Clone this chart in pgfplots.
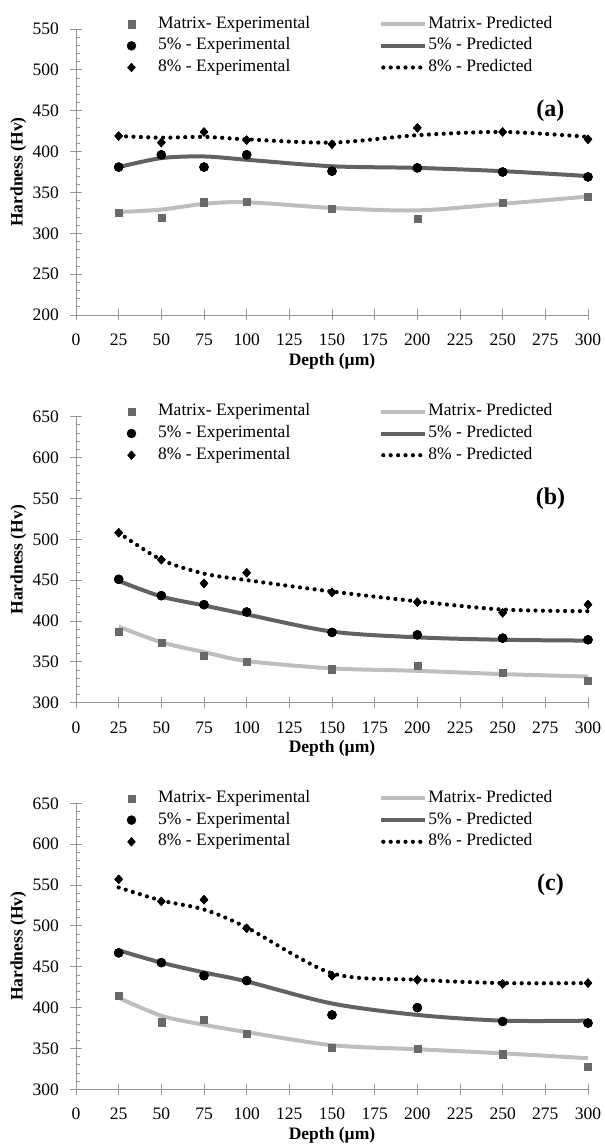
\documentclass[border=0pt]{standalone}
\usepackage{fontspec}
\setmainfont{Liberation Serif}
\usepackage{pgfplots}
\pgfplotsset{compat=1.18}
\definecolor{mexp}{RGB}{105,105,105}
\definecolor{mpred}{RGB}{190,190,190}
\definecolor{fpred}{RGB}{98,98,98}
\definecolor{axgray}{RGB}{150,150,150}
\newcommand{\fs}{\fontsize{17.5}{20}\selectfont}
\pgfplotsset{
 hard/.style={
  scale only axis, width=512pt, height=286pt,
  xmin=0, xmax=300, xtick={0,25,...,300},
  ytick distance=50, minor y tick num=4,
  axis x line*=bottom, axis y line*=left,
  axis line style={draw=axgray, line width=0.8pt},
  major tick length=11pt, minor tick length=4pt,
  tick align=center,
  tick style={draw=axgray, line width=0.8pt},
  minor y tick style={xshift=2pt},
  tick label style={font=\fs, text=black},
  /pgf/number format/assume math mode=true,
  yticklabel style={xshift=-8pt},
  xticklabel style={yshift=-10pt},
  clip=false,
  xlabel={Depth (µm)}, ylabel={Hardness (Hv)},
  ylabel style={at={(axis description cs:-0.1127,0.5)}, anchor=center, font=\bfseries\fs},
  xlabel style={at={(axis description cs:0.5,-0.161)}, anchor=center, font=\bfseries\fs},
  legend columns=3, transpose legend,
  legend style={at={(axis description cs:0.0865,1.051)}, anchor=north west,
    draw=none, fill=none, inner sep=0pt, row sep=2.7pt, column sep=0pt,
    font=\fs, nodes={inner sep=1pt, text height=12.5pt, text depth=4.5pt},
    /tikz/every even column/.append style={column sep=68pt}},
  legend cell align=left,
 },
 markleg/.style={legend image code/.code={\path[draw=none,fill=none] (0pt,-4pt) rectangle (36.7pt,4pt); \draw[##1] plot coordinates {(11pt,0pt)};}},
 mexpst/.style={only marks, mark=square*, mark size=3.6pt, mark options={fill=mexp, draw=mexp}, markleg},
 fexpst/.style={only marks, mark=*, mark size=4.5pt, mark options={fill=black, draw=black}, markleg},
 eexpst/.style={only marks, mark=diamond*, mark size=4.4pt, mark options={fill=black, draw=black, xscale=1.2}, markleg},
 mpredst/.style={no marks, smooth, draw=mpred, line width=4pt,
   legend image code/.code={\draw[##1] (0pt,0pt) -- (44pt,0pt);}},
 fpredst/.style={no marks, smooth, draw=fpred, line width=4pt,
   legend image code/.code={\draw[##1] (0pt,0pt) -- (44pt,0pt);}},
 epredst/.style={no marks, smooth, draw=black, line width=4.2pt, line cap=round, dash pattern=on 0pt off 7.4pt,
   legend image code/.code={\draw[##1] (2pt,0pt) -- (44pt,0pt);}},
}
\begin{document}
\begin{tikzpicture}
\useasboundingbox (0,0) rectangle (605pt,1144pt);
% ---------------- (a)
\begin{axis}[hard, at={(76pt,829pt)}, anchor=south west, ymin=200, ymax=550]
\addplot[mexpst] coordinates {(25,325)(50,319)(75,338)(100,339)(150,330)(200,318)(250,337)(300,345)};
\addlegendentry{Matrix- Experimental}
\addplot[fexpst] coordinates {(25,381)(50,396)(75,381)(100,396)(150,376)(200,380)(250,375)(300,369)};
\addlegendentry{5\% - Experimental}
\addplot[eexpst] coordinates {(25,419)(50,411)(75,424)(100,414)(150,409)(200,429)(250,424)(300,415)};
\addlegendentry{8\% - Experimental}
\addplot[mpredst] coordinates {(25,326)(50,329)(75,336)(100,338)(150,331)(200,328)(250,336)(300,345)};
\addlegendentry{Matrix- Predicted}
\addplot[fpredst] coordinates {(25,381)(50,392)(75,394)(100,390)(150,382)(200,380)(250,376)(300,370)};
\addlegendentry{5\% - Predicted}
\addplot[epredst] coordinates {(25,419)(50,417)(75,418)(100,415)(150,411)(200,420)(250,424)(300,418)};
\addlegendentry{8\% - Predicted}
\addplot[mexpst, forget plot] coordinates {(25,325)(50,319)(75,338)(100,339)(150,330)(200,318)(250,337)(300,345)};
\addplot[fexpst, forget plot] coordinates {(25,381)(50,396)(75,381)(100,396)(150,376)(200,380)(250,375)(300,369)};
\addplot[eexpst, forget plot] coordinates {(25,419)(50,411)(75,424)(100,414)(150,409)(200,429)(250,424)(300,415)};
\node[font=\bfseries\fontsize{24}{28}\selectfont] at (axis cs:278,450) {(a)};
\end{axis}
% ---------------- (b)
\begin{axis}[hard, at={(76pt,441.3pt)}, anchor=south west, ymin=300, ymax=650]
\addplot[mexpst] coordinates {(25,387)(50,373)(75,358)(100,350)(150,341)(200,345)(250,337)(300,327)};
\addlegendentry{Matrix- Experimental}
\addplot[fexpst] coordinates {(25,451)(50,431)(75,420)(100,411)(150,386)(200,383)(250,379)(300,377)};
\addlegendentry{5\% - Experimental}
\addplot[eexpst] coordinates {(25,508)(50,475)(75,446)(100,459)(150,435)(200,423)(250,410)(300,420)};
\addlegendentry{8\% - Experimental}
\addplot[mpredst] coordinates {(25,393)(50,374)(75,362)(100,351)(150,342)(200,339)(250,335)(300,332)};
\addlegendentry{Matrix- Predicted}
\addplot[fpredst] coordinates {(25,449)(50,430)(75,419)(100,408)(150,387)(200,380)(250,377)(300,376)};
\addlegendentry{5\% - Predicted}
\addplot[epredst] coordinates {(25,508)(50,475)(75,458)(100,450)(150,436)(200,424)(250,414)(300,412)};
\addlegendentry{8\% - Predicted}
\addplot[mexpst, forget plot] coordinates {(25,387)(50,373)(75,358)(100,350)(150,341)(200,345)(250,337)(300,327)};
\addplot[fexpst, forget plot] coordinates {(25,451)(50,431)(75,420)(100,411)(150,386)(200,383)(250,379)(300,377)};
\addplot[eexpst, forget plot] coordinates {(25,508)(50,475)(75,446)(100,459)(150,435)(200,423)(250,410)(300,420)};
\node[font=\bfseries\fontsize{24}{28}\selectfont] at (axis cs:278,550) {(b)};
\end{axis}
% ---------------- (c)
\begin{axis}[hard, at={(76pt,54.7pt)}, anchor=south west, ymin=300, ymax=650]
\addplot[mexpst] coordinates {(25,415)(50,382)(75,385)(100,368)(150,351)(200,350)(250,343)(300,328)};
\addlegendentry{Matrix- Experimental}
\addplot[fexpst] coordinates {(25,467)(50,455)(75,439)(100,433)(150,391)(200,400)(250,383)(300,381)};
\addlegendentry{5\% - Experimental}
\addplot[eexpst] coordinates {(25,557)(50,530)(75,532)(100,497)(150,439)(200,434)(250,429)(300,430)};
\addlegendentry{8\% - Experimental}
\addplot[mpredst] coordinates {(25,412)(50,390)(75,379)(100,370)(150,354)(200,349)(250,344)(300,338)};
\addlegendentry{Matrix- Predicted}
\addplot[fpredst] coordinates {(25,470)(50,455)(75,443)(100,432)(150,405)(200,391)(250,384)(300,384)};
\addlegendentry{5\% - Predicted}
\addplot[epredst] coordinates {(25,547)(50,531)(75,520)(100,498)(150,442)(200,434)(250,430)(300,430)};
\addlegendentry{8\% - Predicted}
\addplot[mexpst, forget plot] coordinates {(25,415)(50,382)(75,385)(100,368)(150,351)(200,350)(250,343)(300,328)};
\addplot[fexpst, forget plot] coordinates {(25,467)(50,455)(75,439)(100,433)(150,391)(200,400)(250,383)(300,381)};
\addplot[eexpst, forget plot] coordinates {(25,557)(50,530)(75,532)(100,497)(150,439)(200,434)(250,429)(300,430)};
\node[font=\bfseries\fontsize{24}{28}\selectfont] at (axis cs:278,550) {(c)};
\end{axis}
\end{tikzpicture}
\end{document}
